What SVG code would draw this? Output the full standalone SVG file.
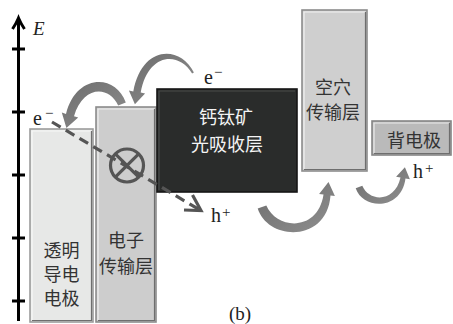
<svg xmlns="http://www.w3.org/2000/svg" width="453" height="324" viewBox="0 0 453 324">
<style>
.cjk{font-family:"Noto Sans CJK SC","Noto Sans CJK JP",sans-serif;font-size:18px;fill:#333;text-anchor:middle}
.w{fill:#f4f4f4}
.lat{font-family:"Liberation Serif","DejaVu Serif",serif;fill:#222}
.hl{fill:none;stroke:#ffffff;stroke-opacity:0.7;stroke-width:1.2}
.sh{fill:none;stroke:#6e6e6e;stroke-width:1.2}
.ax{stroke:#000;stroke-width:3;fill:none}
.arc{fill:url(#g)}
</style>
<defs>
<linearGradient id="g" x1="0" y1="0" x2="1" y2="1">
<stop offset="0" stop-color="#6c6c6c"/>
<stop offset="1" stop-color="#8f8f8f"/>
</linearGradient>
</defs>
<g id="axis">
<line class="ax" x1="18.5" y1="19" x2="18.5" y2="321"/>
<path class="ax" d="M12.5,29 Q16,24 18.5,18 Q21,24 24.5,29" stroke-width="2.5"/>
<line class="ax" x1="12" y1="49" x2="25" y2="49"/>
<line class="ax" x1="12" y1="112" x2="25" y2="112"/>
<line class="ax" x1="12" y1="175" x2="25" y2="175"/>
<line class="ax" x1="12" y1="238" x2="25" y2="238"/>
<line class="ax" x1="12" y1="301" x2="25" y2="301"/>
<text class="lat" x="33" y="35" font-size="19" font-style="italic">E</text>
</g>
<g id="tco">
<rect x="30" y="129" width="63" height="193" fill="#e7e8e7" stroke="#9c9c9c" stroke-width="1.6"/>
<path class="hl" d="M32,320 V131 H91"/>
<path class="sh" d="M32,320.5 H91.5 V131" stroke="#a8a8a8"/>
<text class="cjk" font-size="17"><tspan x="61.5" y="256.5">透明</tspan><tspan x="61.5" y="280.5">导电</tspan><tspan x="61.5" y="304.5">电极</tspan></text>
</g>
<g id="etl">
<rect x="96" y="107" width="60" height="215" fill="#cdcdcd" stroke="#8c8c8c" stroke-width="1.6"/>
<path class="hl" d="M98,320 V109 H154"/>
<path class="sh" d="M98,320.5 H154.5 V109"/>
<text class="cjk"><tspan x="126" y="247">电子</tspan><tspan x="126" y="273">传输层</tspan></text>
</g>
<g id="perovskite">
<rect x="157" y="89" width="140" height="103" fill="#2a2c2b" stroke="#161616" stroke-width="1.6"/>
<path d="M159,190 V91 H295" fill="none" stroke="#4a4c4b" stroke-width="1.2"/>
<text class="cjk w"><tspan x="226" y="124">钙钛矿</tspan><tspan x="227" y="151">光吸收层</tspan></text>
</g>
<g id="htl">
<rect x="302" y="10" width="65" height="161" fill="#cfcfcf" stroke="#8c8c8c" stroke-width="1.6"/>
<path class="hl" d="M304,169 V12 H365"/>
<path class="sh" d="M304,169.5 H365.5 V12"/>
<text class="cjk" font-size="19"><tspan x="333" y="94">空穴</tspan><tspan x="333" y="119">传输层</tspan></text>
</g>
<g id="back">
<rect x="372" y="121" width="79" height="34" fill="#bababa" stroke="#858585" stroke-width="1.6"/>
<path class="hl" d="M374,153 V123 H449"/>
<path class="sh" d="M374,153.5 H449.5 V123"/>
<text class="cjk" x="414" y="147">背电极</text>
</g>
<g id="connectors">
<path class="arc" d="M125.8,102.4 C115.5,73.5 76,73.5 66,114 L61.8,112.6 L66.4,128 L78.2,117.4 L74,116.2 C83,86 108.5,85 118.2,105.6 Z"/>
<path class="arc" d="M193.9,72.5 C180,45 142,45 133.3,91.4 L128.9,90.6 L134.9,104.3 L145.1,93.4 L140.7,92.6 C148,52.5 179,51 192.1,73.5 Z"/>
<path class="arc" d="M257.7,208.5 C268,241 327,243 330.5,195.4 L334.9,195.9 L328.5,182.1 L319.1,194.1 L323.5,194.6 C318,232 277,230 266.3,205.5 Z"/>
<path class="arc" d="M355.7,188.2 C363,210 401,211 405.5,178.4 L409.9,179.2 L404.9,167.2 L396.1,176.8 L400.5,177.6 C395,203 369,202 362.3,185.8 Z"/>
<g fill="none" stroke="#555" stroke-width="3.2">
<circle cx="127" cy="165.5" r="16.5"/>
<line x1="115.3" y1="153.8" x2="138.7" y2="177.2"/>
<line x1="138.7" y1="153.8" x2="115.3" y2="177.2"/>
<line x1="52" y1="122" x2="199" y2="209.5" stroke-dasharray="10 6"/>
<path d="M184,210 L201,210.5 L192.5,195"/>
</g>
</g>
<g id="labels" class="lat" font-size="20">
<text x="33" y="125">e</text>
<text x="45" y="118" font-size="15">−</text>
<text x="204" y="84">e</text>
<text x="214" y="77" font-size="15">−</text>
<text x="211" y="222">h</text>
<text x="222" y="217" font-size="15">+</text>
<text x="413" y="178">h</text>
<text x="425" y="173" font-size="15">+</text>
<text x="240" y="320" text-anchor="middle" font-size="19">(b)</text>
</g>
</svg>
